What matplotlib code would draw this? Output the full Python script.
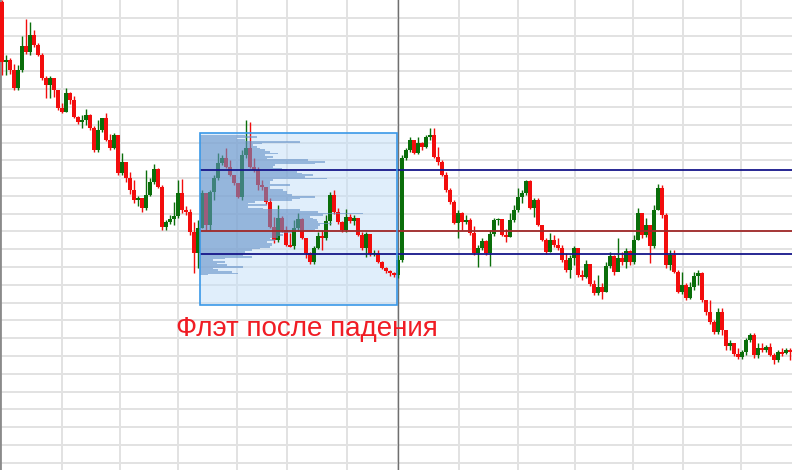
import matplotlib

matplotlib.use("Agg")

import matplotlib.pyplot as plt
import numpy as np
from matplotlib.patches import Rectangle

# price series (one candle per bar), open of each bar = previous close
first_open = 498
close = [
    438, 440, 430, 412, 430, 454, 448, 465, 455, 445,
    422, 415, 422, 410, 392, 388, 407, 400, 383, 378,
    380, 385, 372, 350, 370, 382, 360, 352, 365, 327,
    338, 322, 310, 300, 302, 292, 305, 318, 331, 313,
    273, 278, 281, 284, 307, 290, 288, 268, 247, 272,
    307, 275, 308, 322, 337, 342, 333, 325, 317, 303,
    345, 352, 333, 330, 315, 313, 298, 273, 260, 282,
    270, 255, 254, 272, 281, 262, 247, 238, 252, 264,
    262, 279, 305, 288, 278, 270, 283, 279, 282, 265,
    252, 266, 246, 247, 238, 232, 229, 227, 225, 240,
    342, 350, 360, 347, 357, 353, 363, 365, 343, 338,
    325, 310, 298, 277, 287, 278, 280, 267, 247, 252,
    259, 247, 266, 280, 281, 265, 263, 280, 290, 303,
    307, 319, 292, 300, 275, 260, 248, 260, 255, 252,
    240, 230, 242, 252, 225, 223, 236, 216, 207, 213,
    208, 234, 244, 228, 242, 238, 249, 238, 260, 287,
    265, 275, 254, 290, 312, 285, 235, 245, 228, 208,
    215, 202, 213, 224, 227, 200, 188, 178, 168, 188,
    170, 154, 157, 146, 143, 148, 160, 165, 145, 152,
    150, 153, 145, 140, 148, 147, 150, 149,
]
high = [
    500, 445, 442, 436, 435, 464, 481, 478, 470, 457,
    447, 424, 424, 422, 410, 397, 412, 408, 404, 384,
    385, 391, 386, 374, 380, 382, 387, 366, 367, 365,
    347, 338, 328, 320, 304, 302, 330, 322, 336, 332,
    315, 280, 285, 298, 320, 321, 294, 291, 278, 280,
    310, 307, 310, 325, 347, 345, 352, 340, 325, 317,
    350, 380, 378, 342, 333, 320, 313, 302, 283, 295,
    284, 274, 267, 280, 287, 282, 262, 248, 254, 268,
    270, 285, 308, 310, 292, 279, 291, 286, 285, 282,
    268, 268, 265, 250, 250, 239, 233, 230, 228, 245,
    345, 352, 363, 360, 363, 358, 365, 372, 372, 353,
    340, 328, 312, 300, 290, 288, 285, 282, 274, 255,
    262, 260, 270, 282, 282, 280, 271, 287, 295, 312,
    310, 320, 320, 302, 302, 275, 262, 267, 265, 262,
    255, 247, 245, 254, 252, 230, 240, 236, 220, 225,
    217, 238, 248, 245, 262, 248, 252, 250, 265, 292,
    287, 282, 275, 295, 316, 315, 287, 250, 250, 230,
    228, 217, 218, 228, 230, 228, 200, 200, 180, 192,
    192, 170, 160, 157, 152, 150, 162, 167, 167, 157,
    157, 155, 157, 147, 150, 152, 152, 152,
]
low = [
    425, 425, 426, 410, 410, 428, 446, 445, 453, 444,
    420, 402, 402, 403, 390, 387, 388, 396, 382, 376,
    372, 375, 370, 348, 348, 368, 359, 350, 351, 325,
    325, 318, 306, 297, 294, 288, 290, 304, 316, 312,
    270, 270, 276, 275, 282, 287, 285, 265, 227, 232,
    272, 270, 270, 300, 320, 335, 332, 324, 315, 302,
    300, 342, 332, 328, 310, 310, 296, 272, 257, 258,
    268, 254, 253, 251, 269, 261, 242, 236, 236, 251,
    250, 260, 275, 286, 276, 268, 268, 277, 275, 264,
    250, 243, 244, 244, 237, 231, 227, 224, 223, 222,
    238, 340, 348, 346, 346, 350, 352, 360, 342, 335,
    324, 308, 296, 276, 262, 270, 276, 265, 245, 233,
    250, 245, 234, 264, 275, 264, 258, 263, 278, 288,
    297, 305, 291, 283, 274, 259, 246, 248, 253, 250,
    238, 228, 222, 235, 223, 220, 222, 214, 205, 205,
    201, 208, 232, 225, 230, 235, 232, 235, 236, 260,
    262, 263, 237, 252, 290, 282, 232, 230, 227, 207,
    206, 200, 201, 210, 215, 198, 185, 176, 166, 166,
    165, 150, 150, 144, 141, 141, 145, 158, 142, 142,
    148, 148, 144, 136, 138, 144, 146, 140,
]

# volume profile of the flat range, top level to bottom level
profile_top = 365
profile_bottom = 225
profile_volume = [
    134, 169, 109, 134, 299, 184, 159, 169, 179, 194,
    209, 234, 194, 219, 199, 324, 374, 344, 224, 219,
    244, 259, 289, 304, 339, 314, 379, 219, 209, 209,
    269, 209, 209, 249, 259, 259, 274, 344, 299, 274,
    164, 144, 199, 144, 189, 299, 354, 489, 369, 329,
    339, 349, 354, 394, 359, 354, 354, 344, 274, 239,
    249, 234, 209, 224, 199, 214, 214, 209, 179, 154,
    134, 149, 129, 154, 74, 39, 74, 49, 79, 129,
    39, 54, 94, 114, 24,
]

# flat range box and levels
flat_start, flat_end = 49.6, 98.7
flat_low, flat_high = 194.7, 366.7
level_upper = 329.7
level_mid = 268.7
level_lower = 245.7

date_lines = [15.0, 29.5, 44.0, 58.75, 71.25, 86.25, 99.0,
              114.25, 129.0, 143.25, 157.75, 170.25, 184.75]

close = np.array(close, dtype=float)
high = np.array(high, dtype=float)
low = np.array(low, dtype=float)
opens = np.r_[first_open, close[:-1]]
x = np.arange(len(close))

fig = plt.figure(figsize=(7.92, 4.70), dpi=100)
ax = fig.add_axes([0, 0, 1, 1])
ax.set_xlim(-0.5, len(close) - 0.5)
ax.set_ylim(30, 500)

# grid
ax.set_xticks(date_lines)
ax.set_yticks(np.arange(482, 29, -17.79))
ax.grid(color="#e2e2e2", linewidth=1.4)
ax.set_axisbelow(True)
ax.tick_params(length=0, labelleft=False, labelbottom=False)
for side in ["top", "right", "bottom"]:
    ax.spines[side].set_visible(False)
ax.spines["left"].set_color("#8a8a8a")
ax.spines["left"].set_linewidth(2)

# flat box
ax.add_patch(Rectangle((flat_start, flat_low), flat_end - flat_start, flat_high - flat_low,
                       facecolor="#c3dff9", alpha=0.5, edgecolor="none", zorder=1))
ax.add_patch(Rectangle((flat_start, flat_low), flat_end - flat_start, flat_high - flat_low,
                       facecolor="none", edgecolor="#3a98e8", linewidth=1.2, zorder=6))

ax.axvline(99.0, color="#6f6f6f", linewidth=1, zorder=2)

# candles
up = close >= opens
colors = np.where(up, "#0a6e0a", "#f20d0d")
ax.vlines(x, low, high, colors=colors, linewidth=1, zorder=3)
body = close - opens
body = np.where(np.abs(body) < 1.5, np.where(up, 1.5, -1.5), body)
ax.bar(x, body, bottom=opens, width=0.85, color=colors, linewidth=0, zorder=3)

# volume profile drawn as one stepped shape
levels = np.linspace(profile_top, profile_bottom, len(profile_volume))
vol = np.array(profile_volume, dtype=float)
ax.fill_betweenx(levels, flat_start, flat_start + vol / vol.max() * 40.75,
                 step="mid", color="#6491c8", alpha=0.6, linewidth=0, zorder=4)

# levels
ax.hlines([level_upper, level_lower], flat_start, len(close), colors="#16168a",
          linewidth=1.3, zorder=5)
ax.hlines(level_mid, flat_start, len(close), colors="#a02828", linewidth=1.3, zorder=5)

ax.text(76.25, 171.5, "Флэт после падения", ha="center", va="center", fontsize=20,
        color="#f01c24", family=["Liberation Sans", "DejaVu Sans"], zorder=6)

fig.savefig("out.png", dpi=100)
